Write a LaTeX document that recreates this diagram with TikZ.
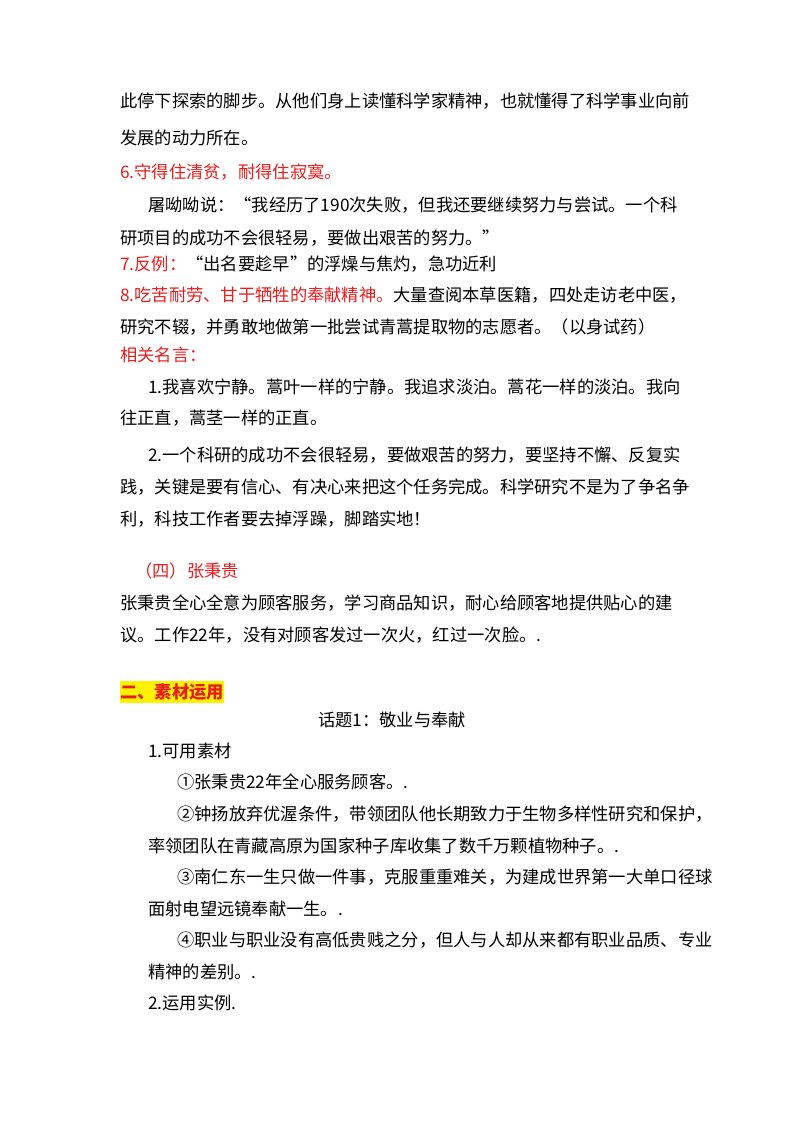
\documentclass[tikz,border=0pt]{standalone}
\usepackage{fontspec}
\setmainfont{Noto Sans CJK SC}
\definecolor{rd}{RGB}{230,30,30}
\begin{document}
\begin{tikzpicture}[x=0.75pt,y=-0.75pt,
  t/.style={anchor=west,inner sep=0pt,font=\fontsize{12.95}{14}\selectfont}]
\useasboundingbox[fill=white] (0,0) rectangle (800,1132);
\node[t] (l1) at (120,101) {此停下探索的脚步。从他们身上读懂科学家精神，也就懂得了科学事业向前};
\node[t] (l2) at (120,138) {发展的动力所在。};
\node[t,text=rd] (l3) at (120,172) {6.守得住清贫，耐得住寂寞。};
\node[t] (l4) at (148,205) {屠呦呦说：“我经历了190次失败，但我还要继续努力与尝试。一个科};
\node[t] (l5) at (120,238) {研项目的成功不会很轻易，要做出艰苦的努力。”};
\node[t] (l6) at (120,264) {\textcolor{rd}{7.反例：}“出名要趁早”的浮燥与焦灼，急功近利};
\node[t] (l7) at (120,295) {\textcolor{rd}{8.吃苦耐劳、甘于牺牲的奉献精神。}大量查阅本草医籍，四处走访老中医，};
\node[t] (l8) at (120,327) {研究不辍，并勇敢地做第一批尝试青蒿提取物的志愿者。（以身试药）};
\node[t,text=rd] (l9) at (120,355) {相关名言：};
\node[t] (l10) at (148,387) {1.我喜欢宁静。蒿叶一样的宁静。我追求淡泊。蒿花一样的淡泊。我向};
\node[t] (l11) at (120,418) {往正直，蒿茎一样的正直。};
\node[t] (l12) at (148,455) {2.一个科研的成功不会很轻易，要做艰苦的努力，要坚持不懈、反复实};
\node[t] (l13) at (120,487) {践，关键是要有信心、有决心来把这个任务完成。科学研究不是为了争名争};
\node[t] (l14) at (120,519) {利，科技工作者要去掉浮躁，脚踏实地！};
\node[t,text=rd] (l15) at (135,571) {（四）张秉贵};
\node[t] (l16) at (120,603) {张秉贵全心全意为顾客服务，学习商品知识，耐心给顾客地提供贴心的建};
\node[t] (l17) at (120,635) {议。工作22年，没有对顾客发过一次火，红过一次脸。.};
\node[t,text=rd,fill=yellow,inner ysep=2pt,font=\fontsize{12.95}{14}\selectfont\bfseries] (l18) at (120,692) {二、素材运用};
\node[t] (l19) at (318,720) {话题1：敬业与奉献};
\node[t] (l20) at (148,751) {1.可用素材};
\node[t] (l21) at (177,782) {①张秉贵22年全心服务顾客。.};
\node[t] (l22) at (177,814) {②钟扬放弃优渥条件，带领团队他长期致力于生物多样性研究和保护，};
\node[t] (l23) at (148,846) {率领团队在青藏高原为国家种子库收集了数千万颗植物种子。.};
\node[t] (l24) at (177,877) {③南仁东一生只做一件事，克服重重难关，为建成世界第一大单口径球};
\node[t] (l25) at (148,909) {面射电望远镜奉献一生。.};
\node[t] (l26) at (177,940) {④职业与职业没有高低贵贱之分，但人与人却从来都有职业品质、专业};
\node[t] (l27) at (148,972) {精神的差别。.};
\node[t] (l28) at (148,1003) {2.运用实例.};
\end{tikzpicture}
\end{document}
